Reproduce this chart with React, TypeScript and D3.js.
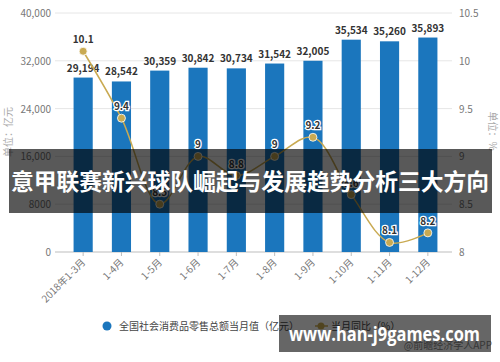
import React from "react";
import * as d3 from "d3";

const categories = ["2018年1-3月", "1-4月", "1-5月", "1-6月", "1-7月", "1-8月", "1-9月", "1-10月", "1-11月", "1-12月"];
const salesValues = [29194, 28542, 30359, 30842, 30734, 31542, 32005, 35534, 35260, 35893];
const yoyValues = [10.1, 9.4, 8.5, 9, 8.8, 9, 9.2, 8.6, 8.1, 8.2];
const leftTicks = [0, 8000, 16000, 24000, 32000, 40000];
const rightTicks = [8, 8.5, 9, 9.5, 10, 10.5];
const legendLabels = ["全国社会消费品零售总额当月值（亿元）", "当月同比（%）"];
const leftAxisTitle = "单位：亿元";
const rightAxisTitle = "单位：%";
const bannerTitle = "意甲联赛新兴球队崛起与发展趋势分析三大方向";
const siteText = "www.han-j9games.com";
const sourceText = "@前瞻经济学人APP";

const W = 500;
const H = 362;
const BLUE = "#1b76bd";
const GOLD = "#c9aa52";
const FONT = "'Noto Sans CJK SC', 'Noto Sans', sans-serif";

export default function App() {
  const x = d3.scaleBand<string>().domain(categories).range([64, 447]).paddingInner(0.5).paddingOuter(0.25);
  const yL = d3.scaleLinear().domain([0, 40000]).range([252, 13]);
  const yR = d3.scaleLinear().domain([8, 10.5]).range([252, 13]);
  const cx = (c: string) => (x(c) as number) + x.bandwidth() / 2;
  const fmt = d3.format(",");
  const leftFmt = (v: number) => (v === 8000 || v === 0 ? String(v) : fmt(v));

  const line = d3
    .line<number>()
    .x((_, i) => cx(categories[i]))
    .y((d) => yR(d))
    .curve(d3.curveCatmullRom.alpha(0.5));

  return (
    <svg width={W} height={H} style={{ position: "absolute", left: 0, top: 0, background: "#fff" }} fontFamily={FONT}>
      <rect x={0} y={0} width={W} height={H} fill="#fff" />
      {leftTicks.map((t) => (
        <line key={"g" + t} x1={55} x2={452} y1={yL(t)} y2={yL(t)} stroke={t === 0 ? "#bdbdbd" : "#e6e6e6"} strokeWidth={1} />
      ))}
      {leftTicks.map((t) => (
        <text key={"l" + t} x={51} y={yL(t) + 4} textAnchor="end" fontSize={10} fill="#777">
          {leftFmt(t)}
        </text>
      ))}
      {rightTicks.map((t) => (
        <text key={"r" + t} x={459} y={yR(t) + 4} textAnchor="start" fontSize={10} fill="#777">
          {t}
        </text>
      ))}
      <text transform={`translate(12,132) rotate(-90)`} textAnchor="middle" fontSize={10} fill="#aaa">
        {leftAxisTitle}
      </text>
      <text transform={`translate(489,131) rotate(90)`} textAnchor="middle" fontSize={10} fill="#aaa">
        {rightAxisTitle}
      </text>
      {categories.map((c) => (
        <line key={"xt" + c} x1={cx(c)} x2={cx(c)} y1={252} y2={256} stroke="#bdbdbd" />
      ))}
      {categories.map((c, i) => (
        <rect key={"b" + c} x={x(c)} y={yL(salesValues[i])} width={x.bandwidth()} height={252 - yL(salesValues[i])} fill={BLUE} />
      ))}
      {categories.map((c, i) => (
        <text key={"bl" + c} x={cx(c)} y={yL(salesValues[i]) - 6} textAnchor="middle" fontSize={10} fontWeight="bold" fill="#333">
          {fmt(salesValues[i])}
        </text>
      ))}
      <path d={line(yoyValues) || ""} fill="none" stroke={GOLD} strokeWidth={1.5} />
      {yoyValues.map((v, i) => (
        <circle key={"p" + i} cx={cx(categories[i])} cy={yR(v)} r={4} fill={GOLD} stroke="#fff" strokeWidth={0.8} />
      ))}
      {yoyValues.map((v, i) => (
        <text
          key={"pl" + i}
          x={cx(categories[i])}
          y={yR(v) - 8}
          textAnchor="middle"
          fontSize={10}
          fontWeight="bold"
          fill="#333"
          stroke="#fff"
          strokeWidth={2.5}
          paintOrder="stroke"
        >
          {v}
        </text>
      ))}
      {categories.map((c) => (
        <text
          key={"xl" + c}
          transform={`translate(${cx(c) + 3},${263}) rotate(-45)`}
          textAnchor="end"
          fontSize={10}
          fill="#777"
        >
          {c}
        </text>
      ))}
      <circle cx={107} cy={326} r={4.5} fill={BLUE} />
      <text x={119} y={330} fontSize={10} fill="#444">
        {legendLabels[0]}
      </text>
      <line x1={315} x2={328} y1={326} y2={326} stroke={GOLD} strokeWidth={1.5} />
      <circle cx={321} cy={326} r={3.5} fill={GOLD} />
      <text x={331} y={330} fontSize={10} fill="#444">
        {legendLabels[1]}
      </text>
      <text x={492} y={349} textAnchor="end" fontSize={10} fill="#888">
        {sourceText}
      </text>
      <rect x={9} y={149} width={483} height={64} fill="#000" fillOpacity={0.65} />
      <text x={250} y={190} textAnchor="middle" fontSize={22.5} fontWeight="bold" fill="#fff" textLength={478} lengthAdjust="spacingAndGlyphs">
        {bannerTitle}
      </text>
      <rect x={279} y={315} width={212} height={37} fill="#000" fillOpacity={0.6} />
      <text
        x={289}
        y={341}
        fontSize={20}
        fontWeight="bold"
        fill="#fff"
        fontFamily="'Open Sans', 'Liberation Sans', sans-serif"
        textLength={191}
        lengthAdjust="spacingAndGlyphs"
      >
        {siteText}
      </text>
    </svg>
  );
}
